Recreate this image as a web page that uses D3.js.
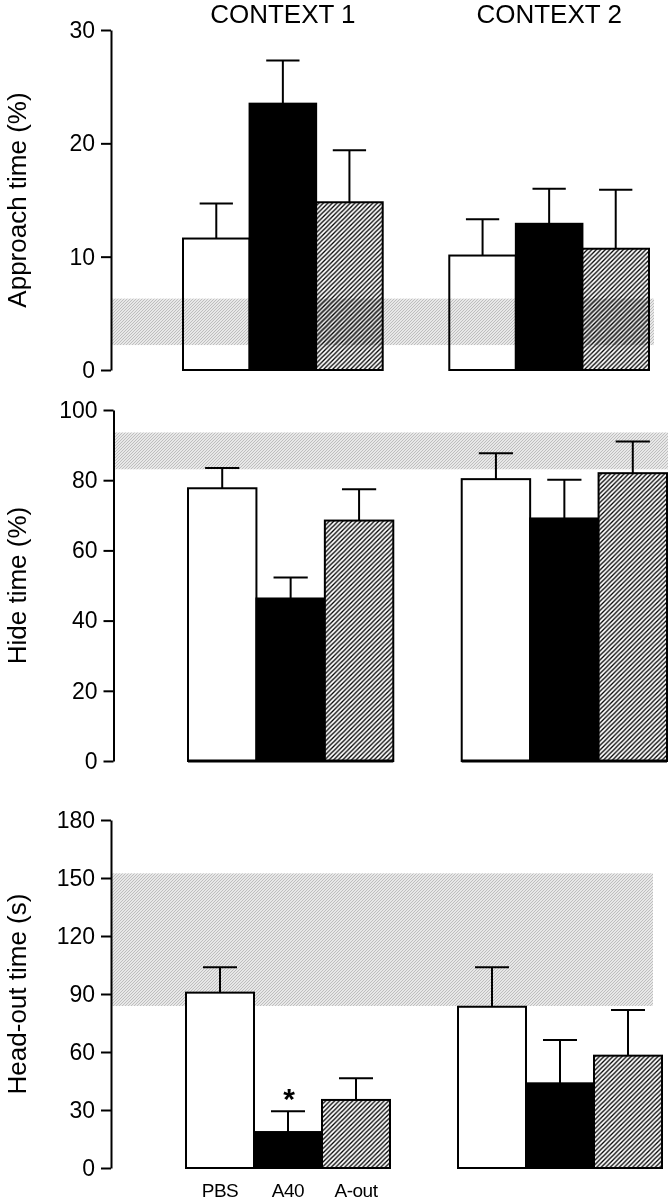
<!DOCTYPE html>
<html>
<head>
<meta charset="utf-8">
<script src="https://cdn.jsdelivr.net/npm/d3@7"></script>
<style>
  html, body { margin: 0; padding: 0; background: #fff; }
  svg { display: block; font-family: "Liberation Sans", Arial, Helvetica, sans-serif; }
</style>
</head>
<body>
<svg id="chart" width="672" height="1200"></svg>
<script>
// ---------------- data ----------------
const contexts = ["CONTEXT 1", "CONTEXT 2"];
const treatments = ["PBS", "A40", "A-out"];

const approachMean = [11.6, 23.5, 14.8, 10.1, 12.9, 10.7];
const approachSem  = [3.1, 3.8, 4.6, 3.2, 3.1, 5.2];
const approachBand = [2.2, 6.3];
const approachTicks = [0, 10, 20, 30];

const hideMean = [77.7, 46.3, 68.5, 80.3, 69.1, 82.0];
const hideSem  = [5.8, 6.0, 8.9, 7.4, 11.0, 9.0];
const hideBand = [83.1, 93.6];
const hideTicks = [0, 20, 40, 60, 80, 100];

const headoutMean = [90.7, 18.6, 35.2, 83.4, 43.8, 58.1];
const headoutSem  = [13.1, 10.7, 11.2, 20.4, 22.4, 23.6];
const headoutBand = [83.8, 152.4];
const headoutTicks = [0, 30, 60, 90, 120, 150, 180];

const yTitles = ["Approach time (%)", "Hide time (%)", "Head-out time (s)"];
const significance = [{panel: 2, context: "CONTEXT 1", treatment: "A40", label: "*"}];

// ---------------- layout ----------------
const panels = [
  {title: yTitles[0], mean: approachMean, sem: approachSem, band: approachBand, ticks: approachTicks,
   top: 30, bottom: 370, axisX: 111, xRange: [183, 649], bandEnd: 654, overlay: true, baseline: false},
  {title: yTitles[1], mean: hideMean, sem: hideSem, band: hideBand, ticks: hideTicks,
   top: 410, bottom: 761, axisX: 113.5, xRange: [188, 667], bandEnd: 668, overlay: false, baseline: true},
  {title: yTitles[2], mean: headoutMean, sem: headoutSem, band: headoutBand, ticks: headoutTicks,
   top: 820, bottom: 1168, axisX: 111, xRange: [186, 662], bandEnd: 653, overlay: false, baseline: false}
];

const svg = d3.select("#chart");
const defs = svg.append("defs");

// black diagonal hatch for A-out bars
const hatch = defs.append("pattern").attr("id", "hatch")
  .attr("patternUnits", "userSpaceOnUse").attr("width", 4.5).attr("height", 4.5);
hatch.append("rect").attr("width", 4.5).attr("height", 4.5).attr("fill", "#fff");
hatch.append("path").attr("d", "M-1,1 l2,-2 M0,4.5 l4.5,-4.5 M3.5,5.5 l2,-2")
  .attr("stroke", "#000").attr("stroke-width", 1.3);

// fine grey hatch for reference band
const grey = defs.append("pattern").attr("id", "greyband")
  .attr("patternUnits", "userSpaceOnUse").attr("width", 3).attr("height", 3);
grey.append("rect").attr("width", 3).attr("height", 3).attr("fill", "#e8e8e8");
grey.append("path").attr("d", "M-1,1 l2,-2 M0,3 l3,-3 M2,4 l2,-2")
  .attr("stroke", "#b4b4b4").attr("stroke-width", 0.8);

const fills = {"PBS": "#fff", "A40": "#000", "A-out": "url(#hatch)"};

panels.forEach((p, pi) => {
  const g = svg.append("g");
  const maxV = p.ticks[p.ticks.length - 1];
  const y = d3.scaleLinear().domain([0, maxV]).range([p.bottom, p.top]);
  const xOuter = d3.scaleBand().domain(contexts).range(p.xRange).paddingInner(0.25).paddingOuter(0);
  const xInner = d3.scaleBand().domain(treatments).range([0, xOuter.bandwidth()]).padding(0);

  const rows = [];
  contexts.forEach((c, ci) => treatments.forEach((t, ti) => {
    const i = ci * treatments.length + ti;
    rows.push({c, t, mean: p.mean[i], sem: p.sem[i]});
  }));

  const drawBand = () => {
    g.append("rect")
      .attr("x", p.axisX + 1).attr("width", p.bandEnd - p.axisX - 1)
      .attr("y", y(p.band[1])).attr("height", y(p.band[0]) - y(p.band[1]))
      .attr("fill", "url(#greyband)")
      .style("mix-blend-mode", p.overlay ? "multiply" : "normal");
  };
  if (!p.overlay) drawBand();

  // error bars (upper)
  const eb = g.append("g").attr("stroke", "#000").attr("stroke-width", 2).attr("fill", "none");
  rows.forEach(r => {
    const cx = xOuter(r.c) + xInner(r.t) + xInner.bandwidth() / 2;
    const hw = xInner.bandwidth() / 4;
    eb.append("line").attr("x1", cx).attr("x2", cx).attr("y1", y(r.mean)).attr("y2", y(r.mean + r.sem));
    eb.append("line").attr("x1", cx - hw).attr("x2", cx + hw).attr("y1", y(r.mean + r.sem)).attr("y2", y(r.mean + r.sem));
  });

  // bars
  g.append("g").selectAll("rect").data(rows).join("rect")
    .attr("x", r => xOuter(r.c) + xInner(r.t))
    .attr("width", xInner.bandwidth())
    .attr("y", r => y(r.mean))
    .attr("height", r => y(0) - y(r.mean))
    .attr("fill", r => fills[r.t])
    .attr("stroke", "#000").attr("stroke-width", 2);

  if (p.baseline) {
    contexts.forEach(c => {
      g.append("line").attr("x1", xOuter(c)).attr("x2", xOuter(c) + xOuter.bandwidth())
        .attr("y1", y(0)).attr("y2", y(0)).attr("stroke", "#000").attr("stroke-width", 3);
    });
  }

  if (p.overlay) drawBand();

  // y axis
  const axis = d3.axisLeft(y).tickValues(p.ticks).tickSize(10).tickSizeOuter(0).tickPadding(6);
  const ag = g.append("g").attr("transform", `translate(${p.axisX},0)`).call(axis);
  ag.select(".domain").attr("stroke", "#000").attr("stroke-width", 2);
  ag.selectAll(".tick line").attr("stroke", "#000").attr("stroke-width", 2);
  ag.selectAll(".tick text").attr("fill", "#000").style("font-size", "23px")
    .style("font-family", '"Liberation Sans", Arial, sans-serif');

  // y title
  g.append("text")
    .attr("transform", `translate(26,${(p.top + p.bottom) / 2}) rotate(-90)`)
    .attr("text-anchor", "middle").style("font-size", "26px").attr("fill", "#000")
    .text(p.title);

  // context headings on top panel
  if (pi === 0) {
    contexts.forEach(c => {
      g.append("text").attr("x", xOuter(c) + xOuter.bandwidth() / 2).attr("y", 23)
        .attr("text-anchor", "middle").style("font-size", "26px").attr("fill", "#000").text(c);
    });
  }

  // treatment labels on bottom panel under context 1
  if (pi === 2) {
    treatments.forEach(t => {
      g.append("text").attr("x", xOuter(contexts[0]) + xInner(t) + xInner.bandwidth() / 2)
        .attr("y", 1197).attr("text-anchor", "middle").style("font-size", "19px")
        .style("letter-spacing", "-0.5px").attr("fill", "#000").text(t);
    });
  }

  significance.filter(s => s.panel === pi).forEach(s => {
    const i = contexts.indexOf(s.context) * treatments.length + treatments.indexOf(s.treatment);
    const cx = xOuter(s.context) + xInner(s.treatment) + xInner.bandwidth() / 2;
    g.append("text").attr("x", cx + 1).attr("y", y(p.mean[i] + p.sem[i]) - 2)
      .attr("text-anchor", "middle").style("font-size", "30px").style("font-weight", "bold")
      .attr("fill", "#000").text(s.label);
  });
});
</script>
</body>
</html>
